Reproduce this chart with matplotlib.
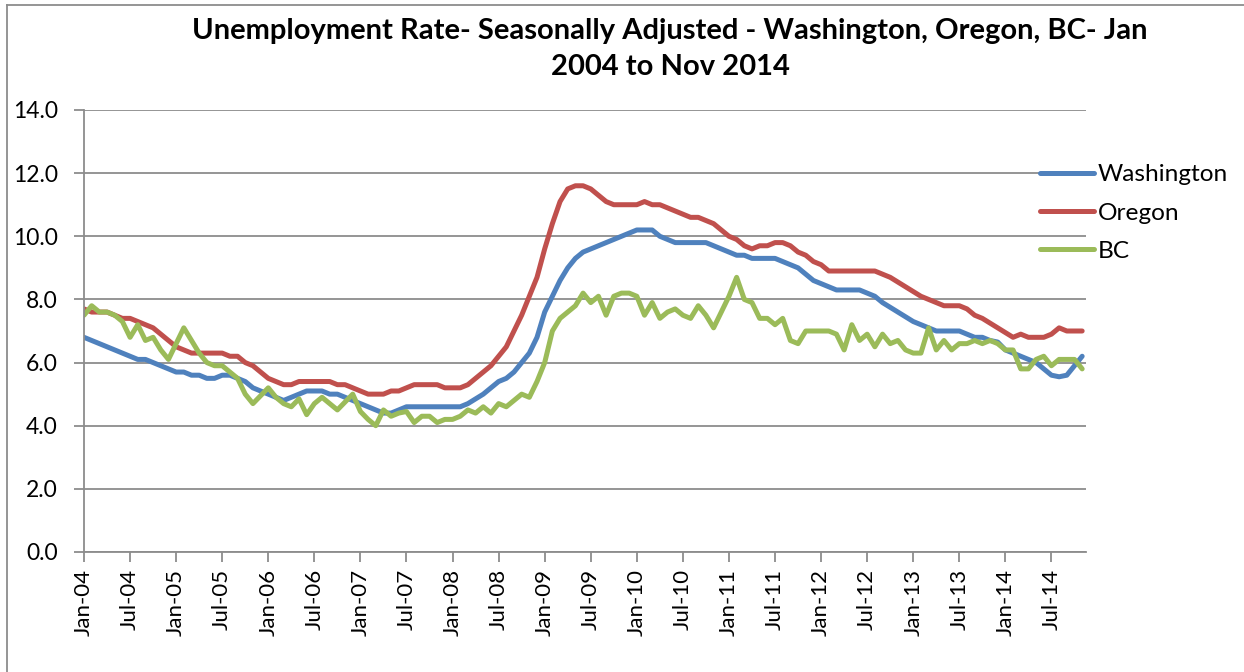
import pandas as pd
import matplotlib
matplotlib.use("Agg")
import matplotlib.pyplot as plt
from matplotlib.lines import Line2D

plt.rcParams['font.family'] = ['Lato', 'DejaVu Sans']

# monthly, Jan 2004 .. Nov 2014
months = pd.date_range("2004-01-01", "2014-11-01", freq="MS")
month_labels = [m.strftime("%b-%y") for m in months]

washington = [
    6.8, 6.7, 6.6, 6.5, 6.4, 6.3, 6.2, 6.1, 6.1, 6.0, 5.9, 5.8,
    5.7, 5.7, 5.6, 5.6, 5.5, 5.5, 5.6, 5.6, 5.5, 5.4, 5.2, 5.1,
    5.0, 4.9, 4.8, 4.9, 5.0, 5.1, 5.1, 5.1, 5.0, 5.0, 4.9, 4.8,
    4.7, 4.6, 4.5, 4.4, 4.4, 4.5, 4.6, 4.6, 4.6, 4.6, 4.6, 4.6,
    4.6, 4.6, 4.7, 4.85, 5.0, 5.2, 5.4, 5.5, 5.7, 6.0, 6.3, 6.8,
    7.6, 8.1, 8.6, 9.0, 9.3, 9.5, 9.6, 9.7, 9.8, 9.9, 10.0, 10.1,
    10.2, 10.2, 10.2, 10.0, 9.9, 9.8, 9.8, 9.8, 9.8, 9.8, 9.7, 9.6,
    9.5, 9.4, 9.4, 9.3, 9.3, 9.3, 9.3, 9.2, 9.1, 9.0, 8.8, 8.6,
    8.5, 8.4, 8.3, 8.3, 8.3, 8.3, 8.2, 8.1, 7.9, 7.75, 7.6, 7.45,
    7.3, 7.2, 7.1, 7.0, 7.0, 7.0, 7.0, 6.9, 6.8, 6.8, 6.7, 6.65,
    6.4, 6.3, 6.2, 6.1, 6.0, 5.8, 5.6, 5.55, 5.6, 5.9, 6.2,
]

oregon = [
    7.7, 7.6, 7.6, 7.6, 7.5, 7.4, 7.4, 7.3, 7.2, 7.1, 6.9, 6.7,
    6.5, 6.4, 6.3, 6.3, 6.3, 6.3, 6.3, 6.2, 6.2, 6.0, 5.9, 5.7,
    5.5, 5.4, 5.3, 5.3, 5.4, 5.4, 5.4, 5.4, 5.4, 5.3, 5.3, 5.2,
    5.1, 5.0, 5.0, 5.0, 5.1, 5.1, 5.2, 5.3, 5.3, 5.3, 5.3, 5.2,
    5.2, 5.2, 5.3, 5.5, 5.7, 5.9, 6.2, 6.5, 7.0, 7.5, 8.1, 8.7,
    9.6, 10.4, 11.1, 11.5, 11.6, 11.6, 11.5, 11.3, 11.1, 11.0, 11.0, 11.0,
    11.0, 11.1, 11.0, 11.0, 10.9, 10.8, 10.7, 10.6, 10.6, 10.5, 10.4, 10.2,
    10.0, 9.9, 9.7, 9.6, 9.7, 9.7, 9.8, 9.8, 9.7, 9.5, 9.4, 9.2,
    9.1, 8.9, 8.9, 8.9, 8.9, 8.9, 8.9, 8.9, 8.8, 8.7, 8.55, 8.4,
    8.25, 8.1, 8.0, 7.9, 7.8, 7.8, 7.8, 7.7, 7.5, 7.4, 7.25, 7.1,
    6.95, 6.8, 6.9, 6.8, 6.8, 6.8, 6.9, 7.1, 7.0, 7.0, 7.0,
]

bc = [
    7.5, 7.8, 7.6, 7.6, 7.5, 7.3, 6.8, 7.2, 6.7, 6.8, 6.4, 6.1,
    6.6, 7.1, 6.7, 6.3, 6.0, 5.9, 5.9, 5.7, 5.5, 5.0, 4.7, 4.95,
    5.2, 4.9, 4.7, 4.6, 4.85, 4.35, 4.7, 4.9, 4.7, 4.5, 4.75, 5.0,
    4.45, 4.2, 4.0, 4.5, 4.3, 4.4, 4.45, 4.1, 4.3, 4.3, 4.1, 4.2,
    4.2, 4.3, 4.5, 4.4, 4.6, 4.4, 4.7, 4.6, 4.8, 5.0, 4.9, 5.4,
    6.0, 7.0, 7.4, 7.6, 7.8, 8.2, 7.9, 8.1, 7.5, 8.1, 8.2, 8.2,
    8.1, 7.5, 7.9, 7.4, 7.6, 7.7, 7.5, 7.4, 7.8, 7.5, 7.1, 7.6,
    8.1, 8.7, 8.0, 7.9, 7.4, 7.4, 7.2, 7.4, 6.7, 6.6, 7.0, 7.0,
    7.0, 7.0, 6.9, 6.4, 7.2, 6.7, 6.9, 6.5, 6.9, 6.6, 6.7, 6.4,
    6.3, 6.3, 7.1, 6.4, 6.7, 6.4, 6.6, 6.6, 6.7, 6.6, 6.7, 6.6,
    6.4, 6.4, 5.8, 5.8, 6.1, 6.2, 5.9, 6.1, 6.1, 6.1, 5.8,
]

series_names = ["Washington", "Oregon", "BC"]
series_colors = ["#4F81BD", "#C0504D", "#9BBB59"]
y_ticks = [0, 2, 4, 6, 8, 10, 12, 14]
title = "Unemployment Rate- Seasonally Adjusted - Washington, Oregon, BC- Jan\n2004 to Nov 2014"

fig = plt.figure(figsize=(12.44, 6.72), dpi=100)
ax = fig.add_axes([84 / 1244, 1 - 552 / 672, (1086 - 84) / 1244, (552 - 110) / 672])

x = list(range(len(month_labels)))
for vals, name, col in zip([washington, oregon, bc], series_names, series_colors):
    ax.plot(x, vals, color=col, linewidth=3.6, label=name, solid_capstyle="round",
            solid_joinstyle="round")

ax.set_ylim(0, 14)
ax.set_xlim(0, 130.5)
ax.set_yticks(y_ticks)
ax.set_yticklabels([f"{v:.1f}" for v in y_ticks], fontsize=16.5)
ax.set_xticks(x[::6])
ax.set_xticklabels(month_labels[::6], rotation=90, fontsize=16)

ax.grid(axis="y", color="#8c8c8c", linewidth=1.3)
ax.set_axisbelow(True)
for s in ["top", "right"]:
    ax.spines[s].set_visible(False)
for s in ["left", "bottom"]:
    ax.spines[s].set_color("#8c8c8c")
    ax.spines[s].set_linewidth(1.3)
ax.tick_params(axis="both", color="#8c8c8c", width=1.3, length=7, direction="out")
ax.tick_params(axis="y", pad=12)
ax.tick_params(axis="x", pad=5)

fig.text(670 / 1244, 1 - 49 / 672, title, ha="center", va="center",
         fontsize=21, fontweight="bold", linespacing=1.5)

ax.legend(loc="center left", bbox_to_anchor=(1040 / 1244, 1 - 213 / 672),
          bbox_transform=fig.transFigure, frameon=False, fontsize=17.6,
          handlelength=2.2, handletextpad=0.15, labelspacing=0.71, borderaxespad=0,
          borderpad=0)

# chart area border (top and left edges visible)
fig.add_artist(Line2D([7 / 1244, 1], [1 - 5 / 672, 1 - 5 / 672], color="#8c8c8c",
                      linewidth=1.3, transform=fig.transFigure))
fig.add_artist(Line2D([7 / 1244, 7 / 1244], [0, 1 - 5 / 672], color="#8c8c8c",
                      linewidth=1.3, transform=fig.transFigure))

fig.savefig("out.png", dpi=100)
